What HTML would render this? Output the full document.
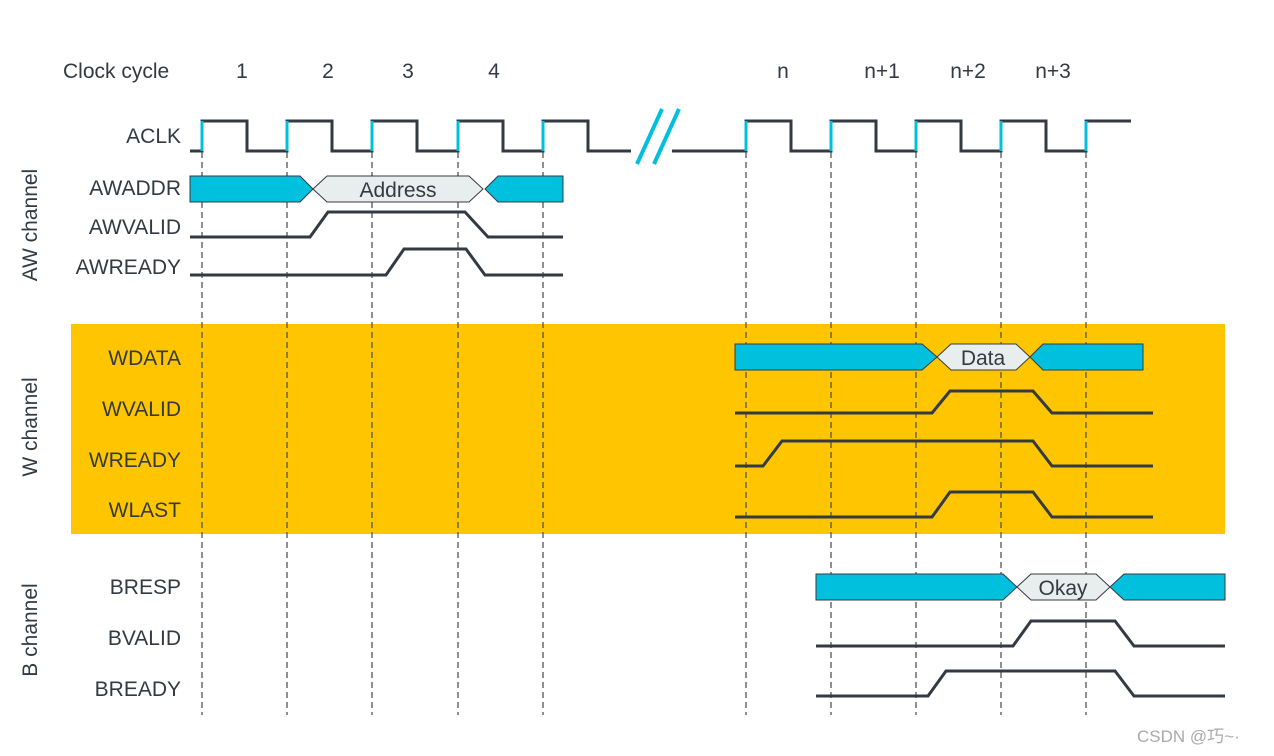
<!DOCTYPE html>
<html><head><meta charset="utf-8"><style>
html,body{margin:0;padding:0;background:#fff;width:1274px;height:756px;overflow:hidden}
text{font-family:"Liberation Sans",sans-serif;fill:#333a42;font-size:21px}
</style></head><body>
<svg width="1274" height="756" viewBox="0 0 1274 756" xmlns="http://www.w3.org/2000/svg">
<rect x="71" y="324" width="1154" height="210" fill="#FFC600"/>
<g stroke="#555" stroke-width="1.3" stroke-dasharray="6,4">
<line x1="202" y1="152" x2="202" y2="715"/><line x1="287" y1="152" x2="287" y2="715"/>
<line x1="372" y1="152" x2="372" y2="715"/><line x1="458" y1="152" x2="458" y2="715"/>
<line x1="543" y1="152" x2="543" y2="715"/><line x1="746" y1="152" x2="746" y2="715"/>
<line x1="831" y1="152" x2="831" y2="715"/><line x1="916" y1="152" x2="916" y2="715"/>
<line x1="1001" y1="152" x2="1001" y2="715"/><line x1="1086" y1="152" x2="1086" y2="715"/>
</g>
<g fill="none" stroke="#333a42" stroke-width="3">
<polyline points="190,151 202,151 202,121 247,121 247,151 287,151 287,121 332,121 332,151 372,151 372,121 417,121 417,151 458,151 458,121 503,121 503,151 543,151 543,121 588,121 588,151 631,151"/>
<polyline points="672,151 746,151 746,121 791,121 791,151 831,151 831,121 876,121 876,151 916,151 916,121 961,121 961,151 1001,151 1001,121 1046,121 1046,151 1086,151 1086,121 1131,121"/>
<polyline points="190,237 310,237 328,212 465,212 488,237 563,237"/>
<polyline points="190,275 386,275 404,249 466,249 485,275 563,275"/>
<polyline points="735,413 932,413 950,391 1033,391 1052,413 1153,413"/>
<polyline points="735,466 763,466 782,441 1033,441 1052,466 1153,466"/>
<polyline points="735,517 932,517 950,492 1033,492 1052,517 1153,517"/>
<polyline points="816,646 1013,646 1031,621 1115,621 1134,646 1225,646"/>
<polyline points="816,696 928,696 946,671 1115,671 1134,696 1225,696"/>
</g>
<g stroke="#00c0de" stroke-width="3">
<line x1="202" y1="121" x2="202" y2="151"/><line x1="287" y1="121" x2="287" y2="151"/>
<line x1="372" y1="121" x2="372" y2="151"/><line x1="458" y1="121" x2="458" y2="151"/>
<line x1="543" y1="121" x2="543" y2="151"/><line x1="746" y1="121" x2="746" y2="151"/>
<line x1="831" y1="121" x2="831" y2="151"/><line x1="916" y1="121" x2="916" y2="151"/>
<line x1="1001" y1="121" x2="1001" y2="151"/><line x1="1086" y1="121" x2="1086" y2="151"/>
<line x1="637" y1="164" x2="662" y2="109" stroke-width="4"/><line x1="654" y1="164" x2="679" y2="109" stroke-width="4"/>
</g>
<g stroke="#333a42" stroke-width="1">
<polygon points="190,176 300,176 313,189 300,202 190,202" fill="#00c0de"/>
<polygon points="313,189 327,176 469,176 483,189 469,202 327,202" fill="#e8eded"/>
<polygon points="485,189 498,176 563,176 563,202 498,202" fill="#00c0de"/>
<polygon points="735,344 922,344 937,357 922,370 735,370" fill="#00c0de"/>
<polygon points="937,357 951,344 1016,344 1030,357 1016,370 951,370" fill="#e8eded"/>
<polygon points="1030,357 1043,344 1143,344 1143,370 1043,370" fill="#00c0de"/>
<polygon points="816,574 1003,574 1017,587 1003,600 816,600" fill="#00c0de"/>
<polygon points="1017,587 1031,574 1096,574 1110,587 1096,600 1031,600" fill="#e8eded"/>
<polygon points="1110,587 1124,574 1225,574 1225,600 1124,600" fill="#00c0de"/>
</g>
<text x="398" y="197" text-anchor="middle">Address</text>
<text x="983" y="365" text-anchor="middle">Data</text>
<text x="1063" y="595" text-anchor="middle">Okay</text>
<text x="63" y="78">Clock cycle</text>
<g text-anchor="middle">
<text x="242" y="78">1</text><text x="328" y="78">2</text><text x="408" y="78">3</text><text x="494" y="78">4</text>
<text x="783" y="78">n</text><text x="882" y="78">n+1</text><text x="968" y="78">n+2</text><text x="1053" y="78">n+3</text>
</g>
<g text-anchor="end">
<text x="181" y="143">ACLK</text><text x="181" y="195">AWADDR</text><text x="181" y="234">AWVALID</text>
<text x="181" y="274">AWREADY</text><text x="181" y="365">WDATA</text><text x="181" y="416">WVALID</text>
<text x="181" y="467">WREADY</text><text x="181" y="517">WLAST</text><text x="181" y="594">BRESP</text>
<text x="181" y="645">BVALID</text><text x="181" y="696">BREADY</text>
</g>
<text transform="translate(37,225) rotate(-90)" text-anchor="middle">AW channel</text>
<text transform="translate(37,427) rotate(-90)" text-anchor="middle">W channel</text>
<text transform="translate(37,630) rotate(-90)" text-anchor="middle">B channel</text>
<text x="1137" y="742" style="font-size:17px;fill:#aaa;font-family:'Liberation Sans','Noto Sans CJK SC',sans-serif">CSDN @巧~·</text>
</svg>
</body></html>
